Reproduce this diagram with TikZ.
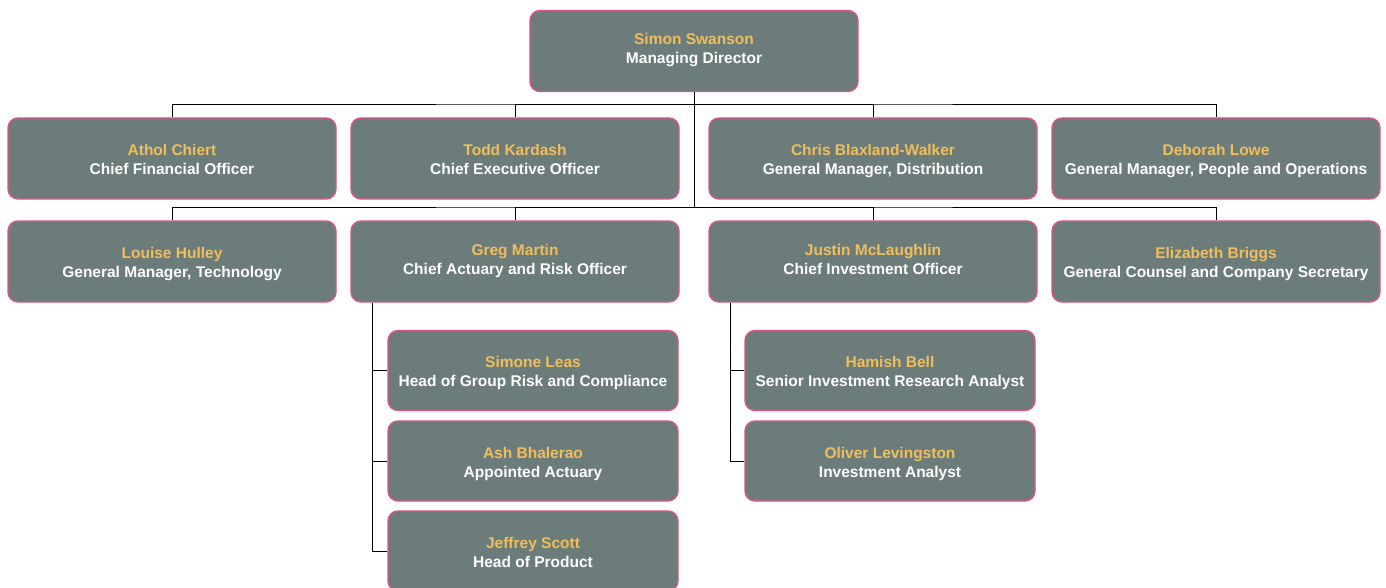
\documentclass[tikz,border=0pt]{standalone}
\usepackage{fontspec}
\setmainfont{Liberation Sans}
\usepackage{xcolor}
\definecolor{boxgrey}{RGB}{108, 124, 122}
\definecolor{boxpink}{RGB}{217, 85, 138}
\definecolor{namegold}{RGB}{240, 190, 90}
\usepackage{tikz}
\usetikzlibrary{positioning, calc}

% optional argument pushes the two lines down
\newcommand{\staff}[3][3pt]{{\color{namegold}\rule{0pt}{\dimexpr13.3pt+2\dimexpr#1\relax\relax}#2}\\ \strut#3}

\begin{document}
\begin{tikzpicture}[x=1pt, y=-1pt,
    person/.style={draw=boxpink, line width=1.4pt, fill=boxgrey, rounded corners=10pt,
        minimum width=328pt, minimum height=81pt, align=center, text=white, inner sep=0pt,
        font=\fontsize{15.5}{19}\selectfont\bfseries},
    subperson/.style={person, minimum width=290pt, minimum height=80pt},
    link/.style={draw=black, line width=0.9pt}]
    \useasboundingbox[fill=white] (0,0) rectangle (1386,588);

    % top
    \node[person] (md) at (694, 51) {\staff[-1.5pt]{Simon Swanson}{Managing Director}};

    % first row
    \node[person] (cfo)  at (172, 158.5)  {\staff{Athol Chiert}{Chief Financial Officer}};
    \node[person] (ceo)  at (515, 158.5)  {\staff{Todd Kardash}{Chief Executive Officer}};
    \node[person] (gmd)  at (873, 158.5)  {\staff{Chris Blaxland-Walker}{General Manager, Distribution}};
    \node[person] (gmpo) at (1216, 158.5) {\staff{Deborah Lowe}{General Manager, People and Operations}};

    % second row
    \node[person] (gmt) at (172, 261.5)  {\staff{Louise Hulley}{General Manager, Technology}};
    \node[person] (cro) at (515, 261.5)  {\staff[0pt]{Greg Martin}{Chief Actuary and Risk Officer}};
    \node[person] (cio) at (873, 261.5)  {\staff[0pt]{Justin McLaughlin}{Chief Investment Officer}};
    \node[person] (gc)  at (1216, 261.5) {\staff{Elizabeth Briggs}{General Counsel and Company Secretary}};

    % under Greg Martin
    \node[subperson] (risk) at (533, 370.5) {\staff{Simone Leas}{Head of Group Risk and Compliance}};
    \node[subperson] (act)  at (533, 461)   {\staff{Ash Bhalerao}{Appointed Actuary}};
    \node[subperson] (prod) at (533, 551)   {\staff{Jeffrey Scott}{Head of Product}};

    % under Justin McLaughlin
    \node[subperson] (res) at (890, 370.5) {\staff{Hamish Bell}{Senior Investment Research Analyst}};
    \node[subperson] (inv) at (890, 461)   {\staff{Oliver Levingston}{Investment Analyst}};

    % connectors
    \coordinate (busa) at (694, 104);
    \coordinate (busb) at (694, 207);
    \coordinate (crostem) at ([xshift=22pt]cro.south west);
    \coordinate (ciostem) at ([xshift=22pt]cio.south west);

    \draw[link] (md.south) -- (busb);
    \draw[link] (cfo.north) |- (busa) -| (gmpo.north);
    \draw[link] (ceo.north) |- (busa);
    \draw[link] (gmd.north) |- (busa);
    \draw[link] (gmt.north) |- (busb) -| (gc.north);
    \draw[link] (cro.north) |- (busb);
    \draw[link] (cio.north) |- (busb);

    \draw[link] (crostem) |- (prod.west);
    \draw[link] (risk.west) -- (risk.west -| crostem);
    \draw[link] (act.west) -- (act.west -| crostem);
    \draw[link] (ciostem) |- (inv.west);
    \draw[link] (res.west) -- (res.west -| ciostem);
\end{tikzpicture}
\end{document}
